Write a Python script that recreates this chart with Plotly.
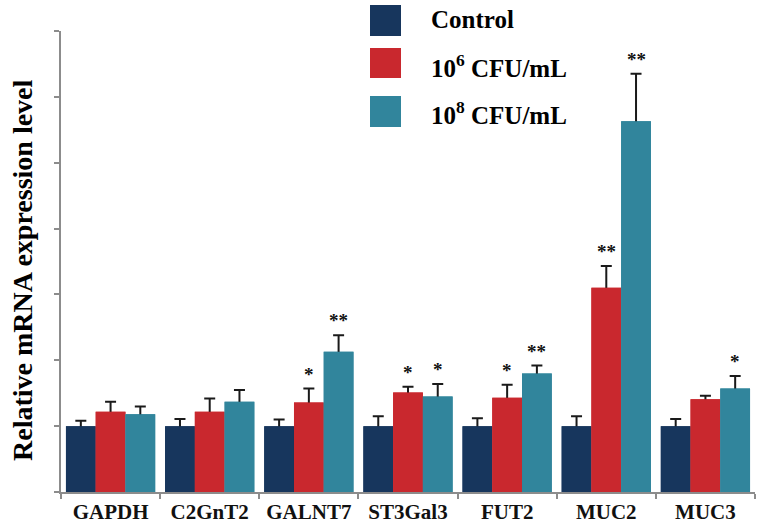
import plotly.graph_objects as go

categories = ["GAPDH", "C2GnT2", "GALNT7", "ST3Gal3", "FUT2", "MUC2", "MUC3"]
series_names = ["Control", "10<sup>6</sup> CFU/mL", "10<sup>8</sup> CFU/mL"]
control = [1.0, 1.0, 1.0, 1.0, 1.0, 1.0, 1.0]
control_err = [0.08, 0.11, 0.10, 0.15, 0.12, 0.15, 0.11]
low_dose = [1.22, 1.22, 1.36, 1.51, 1.43, 3.10, 1.41]
low_err = [0.15, 0.20, 0.21, 0.09, 0.20, 0.33, 0.05]
high_dose = [1.18, 1.37, 2.13, 1.45, 1.80, 5.63, 1.57]
high_err = [0.12, 0.18, 0.25, 0.19, 0.12, 0.72, 0.19]
control_sig = ["", "", "", "", "", "", ""]
low_sig = ["", "", "*", "*", "*", "**", ""]
high_sig = ["", "", "**", "*", "**", "**", "*"]
colors = ["#17365d", "#c9282e", "#31859c"]

W, H = 758, 528
ML, MR, MT, MB = 61, 3, 31, 36
PW, PH = W - ML - MR, H - MT - MB
BARGAP = 0.1
bar_px = PW / len(categories) * (1 - BARGAP) / 3

values = [control, low_dose, high_dose]
errors = [control_err, low_err, high_err]
sigs = [control_sig, low_sig, high_sig]

fig = go.Figure()
for i in range(3):
    # bar carrying the error bar (its lower part is hidden by the covering bar)
    fig.add_trace(go.Bar(
        x=categories, y=values[i], offsetgroup=str(i), showlegend=False,
        marker=dict(color=colors[i], line=dict(width=0)),
        error_y=dict(type="data", symmetric=False, array=errors[i],
                     arrayminus=[0.05] * len(categories),
                     color="#1a1a1a", thickness=2, width=5.5),
        hoverinfo="skip"))
    # covering bar
    fig.add_trace(go.Bar(
        x=categories, y=values[i], offsetgroup=str(i), name=series_names[i],
        showlegend=False, marker=dict(color=colors[i], line=dict(width=0))))

annotations = []
for i in range(3):
    shift = (i - 1) * bar_px
    for c, v, e, s in zip(categories, values[i], errors[i], sigs[i]):
        if s:
            annotations.append(dict(
                x=c, y=v + e, xref="x", yref="y", text="<b>%s</b>" % s,
                showarrow=False, xshift=shift, yanchor="bottom", yshift=2,
                font=dict(family="Liberation Serif", size=19, color="#111")))


def px_x(p):
    return (p - ML) / PW


def px_y(p):
    return (MT + PH - p) / PH


shapes = []
legend_rows = [(5, 36, 20), (48, 78, 66), (96, 127, 113)]
for i, (top, bot, mid) in enumerate(legend_rows):
    shapes.append(dict(type="rect", xref="paper", yref="paper",
                       x0=px_x(370), x1=px_x(401), y0=px_y(bot), y1=px_y(top),
                       fillcolor=colors[i], line=dict(width=0)))
    annotations.append(dict(x=px_x(429), y=px_y(mid), xref="paper", yref="paper",
                            text="<b>%s</b>" % series_names[i], showarrow=False,
                            xanchor="left", yanchor="middle",
                            font=dict(family="Liberation Serif", size=25, color="#000")))

annotations.append(dict(x=px_x(22), y=px_y(270), xref="paper", yref="paper",
                        text="<b>Relative mRNA expression level</b>", textangle=-90,
                        showarrow=False, xanchor="center", yanchor="middle",
                        font=dict(family="Liberation Serif", size=28, color="#000")))

fig.update_layout(
    width=W, height=H,
    margin=dict(l=ML, r=MR, t=MT, b=MB, pad=0),
    paper_bgcolor="white", plot_bgcolor="white",
    barmode="group", bargap=BARGAP, bargroupgap=0,
    showlegend=False,
    annotations=annotations, shapes=shapes,
    xaxis=dict(type="category", showline=True, linecolor="#8c8c8c", linewidth=1.5,
               ticks="outside", tickson="boundaries", ticklen=5, tickcolor="#8c8c8c",
               tickwidth=1.5, showgrid=False, zeroline=False,
               tickfont=dict(family="Liberation Serif", size=21, color="#111"),
               tickprefix="<b>", ticksuffix="</b>"),
    yaxis=dict(range=[0, 7], dtick=1, showline=True, linecolor="#8c8c8c", linewidth=1.5,
               ticks="outside", ticklen=5, tickcolor="#8c8c8c", tickwidth=1.5,
               showticklabels=False, showgrid=False, zeroline=False),
)

fig.write_html("out.html", config={"displayModeBar": False},
               post_script="document.body.style.margin='0';document.body.style.padding='0';")
